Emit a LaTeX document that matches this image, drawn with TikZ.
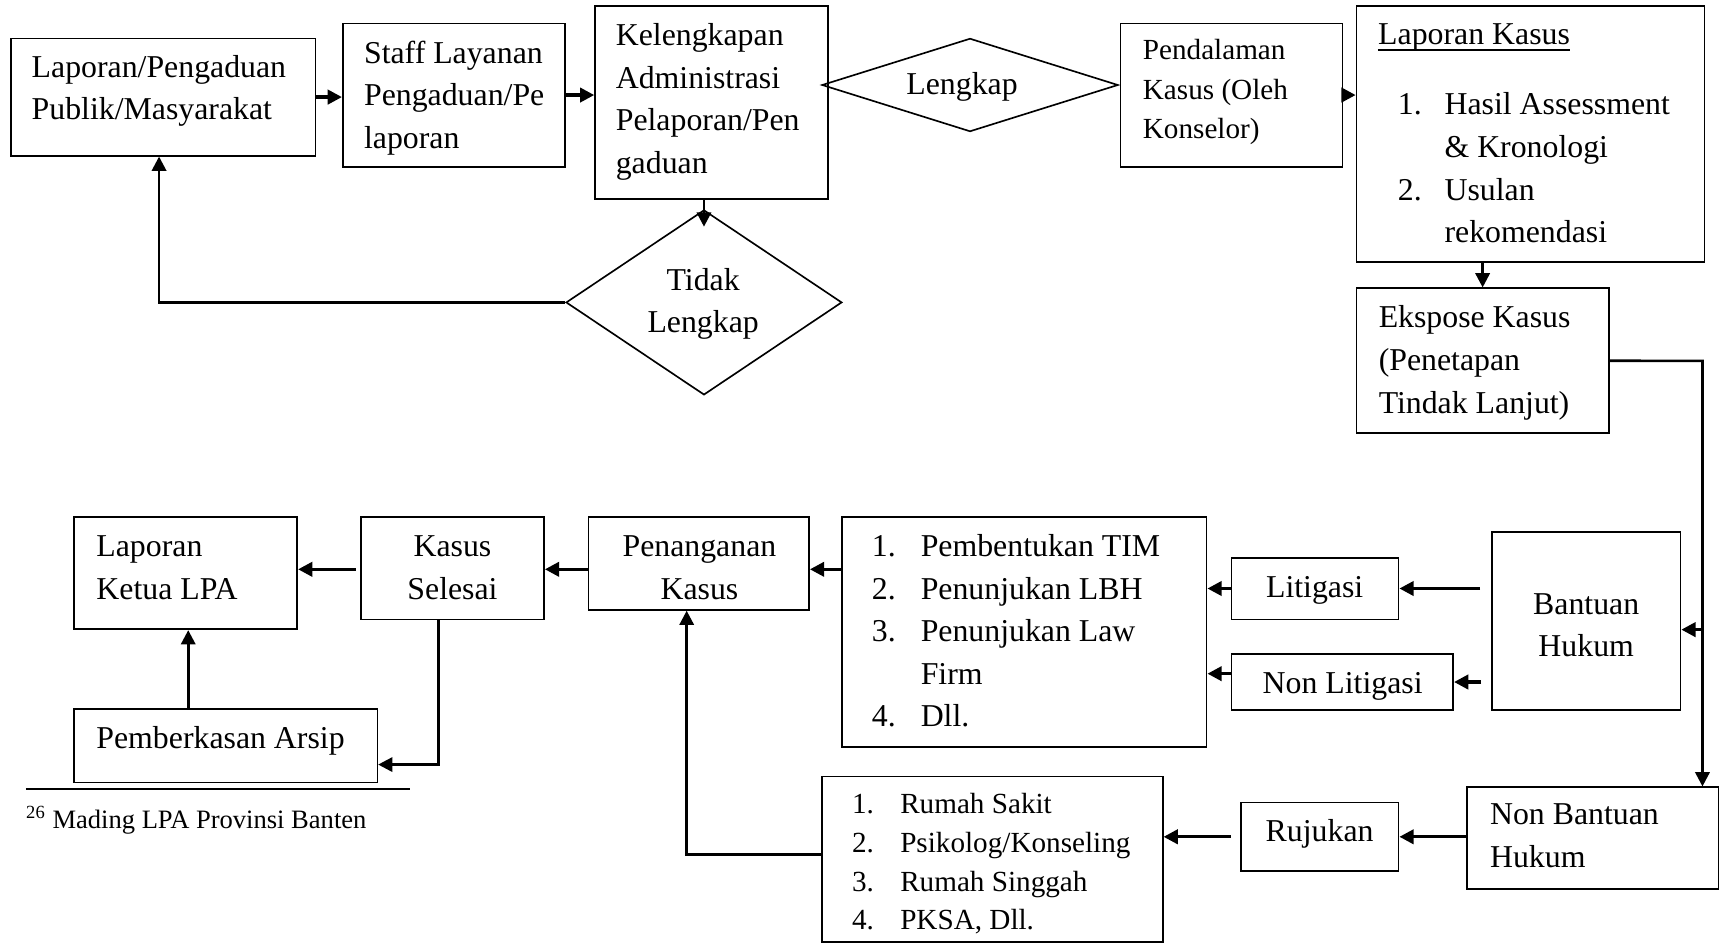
\documentclass[tikz,border=0pt]{standalone}
\usepackage{fontspec}
\setmainfont{Liberation Serif}
\usetikzlibrary{arrows.meta,shapes.geometric,fit}
\newcommand{\Lft}[1]{\vtop{\halign{##\hfil\cr #1\crcr}}}
\newcommand{\Ctr}[1]{\vtop{\halign{\hfil##\hfil\cr #1\crcr}}}
\tikzset{
  box/.style={draw, line width=0.75pt, inner sep=0pt},
  dia/.style={draw, diamond, line width=0.75pt, inner sep=0pt, aspect=1},
  arr/.style={line width=1.5pt, -{Triangle[length=6.5pt,width=6.5pt]}},
  arrl/.style={line width=1.2pt, -{Triangle[length=6.5pt,width=6.5pt]}},
  txt/.style={inner sep=0pt},
  fbig/.style={font=\fontsize{14.5pt}{19.4pt}\selectfont},
  fmid/.style={font=\fontsize{13.3pt}{17.85pt}\selectfont},
  fmidb/.style={font=\fontsize{13.3pt}{17.7pt}\selectfont},
  fsmall/.style={font=\fontsize{12.1pt}{14pt}\selectfont},
}
\begin{document}
\begin{tikzpicture}[x=0.5pt,y=-0.5pt]
\useasboundingbox (0,0) rectangle (1568,860);
% boxes
\node[box, fit={(10,35) (287.5,142)}] (b1) {};
\node[box, fit={(312.5,21.3) (515,152)}] (b2) {};
\node[box, fit={(542.5,5.5) (755,181.4)}] (b3) {};
\node[box, fit={(1021.4,21.3) (1224,152)}] (pend) {};
\node[box, fit={(1236.6,5.5) (1554,239.1)}] (lk) {};
\node[box, fit={(1236.6,262.8) (1466.6,395)}] (eks) {};
\node[box, fit={(67.5,471.6) (271,573.7)}] (lkt) {};
\node[box, fit={(329,471.6) (496,564.6)}] (ks) {};
\node[box, fit={(536.6,471.6) (737.6,556)}] (pen) {};
\node[box, fit={(767.8,471.6) (1100,680.7)}] (l1) {};
\node[box, fit={(1122.5,508.4) (1275,564.6)}] (lit) {};
\node[box, fit={(1122.5,596.2) (1324.8,647.3)}] (nlit) {};
\node[box, fit={(1360,484.8) (1532,647.3)}] (bh) {};
\node[box, fit={(1337.6,717.7) (1566.5,810.7)}] (nbh) {};
\node[box, fit={(1131.6,731.7) (1275,794)}] (ruj) {};
\node[box, fit={(749.6,708) (1060,858.5)}] (l2) {};
\node[box, fit={(67.5,646.6) (344,713.5)}] (pa) {};
% diamonds
\node[dia, minimum width=135pt, minimum height=42.5pt] (dL) at (884.3,77.5) {};
\node[dia, minimum width=125.75pt, minimum height=84.3pt] (dT) at (641.75,275.7) {};
% texts
\node[txt, fbig, anchor=base west] (t1) at (28.5,70.5) {\Lft{Laporan/Pengaduan\cr Publik/Masyarakat}};
\node[txt, fbig, anchor=base west] (t2) at (331.5,57.7) {\Lft{Staff Layanan\cr Pengaduan/Pe\cr laporan}};
\node[txt, fbig, anchor=base west] (t3) at (561,41.6) {\Lft{Kelengkapan\cr Administrasi\cr Pelaporan/Pen\cr gaduan}};
\node[txt, fbig, anchor=base] (tL) at (877,86.6) {Lengkap};
\node[txt, fbig, anchor=base] (tT) at (641,264.4) {\Ctr{Tidak\cr Lengkap}};
\node[txt, fmid, anchor=base west] (tP) at (1041.5,54.7) {\Lft{Pendalaman\cr Kasus (Oleh\cr Konselor)}};
\node[txt, fbig, anchor=base west] (tLK) at (1256,41) {Laporan Kasus};
\draw[line width=0.6pt] ([yshift=-2.3pt]tLK.base west) -- ([yshift=-2.3pt]tLK.base east);
\node[txt, fbig, anchor=base west] (tLKl) at (1274,104.8) {\Lft{\makebox[21.25pt][l]{1.}Hasil Assessment\cr \hspace*{21.25pt}\& Kronologi\cr \makebox[21.25pt][l]{2.}Usulan\cr \hspace*{21.25pt}rekomendasi}};
\node[txt, fbig, anchor=base west] (tE) at (1256.5,299) {\Lft{Ekspose Kasus\cr (Penetapan\cr Tindak Lanjut)}};
\node[txt, fbig, anchor=base west] (tLKt) at (87.5,507.5) {\Lft{Laporan\cr Ketua LPA}};
\node[txt, fbig, anchor=base] (tKS) at (412.5,507.5) {\Ctr{Kasus\cr Selesai}};
\node[txt, fbig, anchor=base] (tPen) at (637.6,507.5) {\Ctr{Penanganan\cr Kasus}};
\node[txt, fbig, anchor=base west] (tL1) at (794.5,507.5) {\Lft{\makebox[22.25pt][l]{1.}Pembentukan TIM\cr \makebox[22.25pt][l]{2.}Penunjukan LBH\cr \makebox[22.25pt][l]{3.}Penunjukan Law\cr \hspace*{22.25pt}Firm\cr \makebox[22.25pt][l]{4.}Dll.}};
\node[txt, fbig, anchor=base] (tLit) at (1198.5,544.5) {Litigasi};
\node[txt, fbig, anchor=base] (tNL) at (1224,632) {Non Litigasi};
\node[txt, fbig, anchor=base] (tBH) at (1446,560) {\Ctr{Bantuan\cr Hukum}};
\node[txt, fbig, anchor=base west] (tNB) at (1358,752) {\Lft{Non Bantuan\cr Hukum}};
\node[txt, fbig, anchor=base] (tR) at (1203,767.3) {Rujukan};
\node[txt, fmidb, anchor=base west] (tL2) at (776.3,741.5) {\Lft{\makebox[22pt][l]{1.}Rumah Sakit\cr \makebox[22pt][l]{2.}Psikolog/Konseling\cr \makebox[22pt][l]{3.}Rumah Singgah\cr \makebox[22pt][l]{4.}PKSA, Dll.}};
\node[txt, fbig, anchor=base west] (tPA) at (87.5,682) {Pemberkasan Arsip};
\node[txt, fsmall, anchor=base west] (tFN) at (23.5,755) {\textsuperscript{26} Mading LPA Provinsi Banten};
\draw[line width=0.75pt] (23.5,719) -- (374,719);
% helper coordinates
\coordinate (tb) at (145,275.7);
\coordinate (cR) at (1552,329);
\coordinate (cB) at (1552,574);
\coordinate (row) at (0,519);
\coordinate (ksd) at (400,697);
\coordinate (pax) at (171.6,0);
\coordinate (lp) at (626,779);
% connectors
\draw[arr] (b1.east) -- (b1.east -| b2.west);
\draw[arr] (b2.east) -- (b2.east -| b3.west);
\draw[arrl] (dT.north |- b3.south) -- ([yshift=-8pt]dT.north);
\draw[arrl] (dT.west) -- (tb) -- (tb |- b1.south);
\draw[arr] (pend.east) -- (pend.east -| lk.west);
\draw[arrl] (eks.north |- lk.south) -- (eks.north);
\draw[arrl] (eks.east) -- (cR) -- (cR |- nbh.north);
\draw[arr] (cB) -- (cB -| bh.east);
\draw[arr] ([xshift=-5pt]bh.west |- lit.east) -- (lit.east);
\draw[arr] ([xshift=-4.5pt]bh.west |- nlit.east) -- (nlit.east);
\draw[arr] (lit.west) -- (lit.west -| l1.east);
\draw[arr] ([yshift=3.8pt]nlit.west) -- ([yshift=3.8pt]nlit.west -| l1.east);
\draw[arr] (l1.west |- row) -- (pen.east |- row);
\draw[arr] (pen.west |- row) -- (ks.east |- row);
\draw[arr] ([xshift=-2pt]ks.west |- row) -- (lkt.east |- row);
\draw[arrl] (ks.south -| ksd) -- (ksd) -- (ksd -| pa.east);
\draw[arrl] (pax |- pa.north) -- (pax |- lkt.south);
\draw[arr] (nbh.west |- ruj.east) -- (ruj.east);
\draw[arr] ([xshift=-4.5pt]ruj.west) -- (ruj.west -| l2.east);
\draw[arrl] (l2.west |- lp) -- (lp) -- (lp |- pen.south);
\end{tikzpicture}
\end{document}
